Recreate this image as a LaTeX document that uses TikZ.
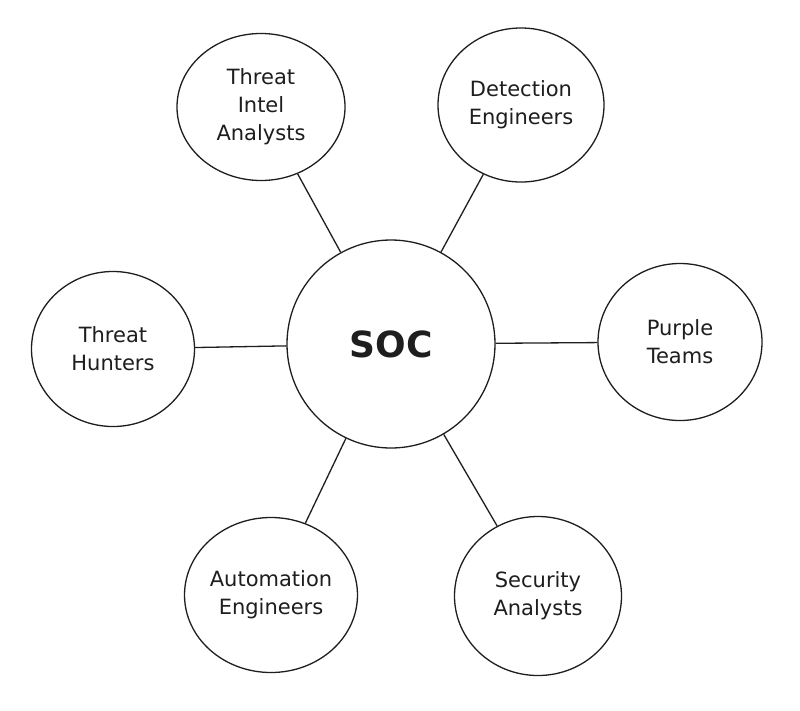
\documentclass[tikz,border=0pt]{standalone}
\usepackage{fontspec}
\setmainfont{DejaVu Sans}
\usetikzlibrary{shapes.geometric}
\definecolor{ink}{HTML}{1E1E1E}
\begin{document}
\begin{tikzpicture}[x=1pt,y=-1pt,
  sat/.style={draw=ink, line width=1.3pt, ellipse, inner sep=0pt, align=center, text=ink,
    font=\fontsize{21}{28}\selectfont},
  hub/.style={draw=ink, line width=1.3pt, ellipse, inner sep=0pt, text=ink,
    minimum width=208pt, minimum height=208pt, font=\fontsize{36}{40}\selectfont\bfseries},
  link/.style={draw=ink, line width=1.3pt}]
\fill[white] (0,0) rectangle (800,710);
\useasboundingbox (0,0) rectangle (800,710);
\node[hub] (soc) at (391,344) {SOC};
\node[sat, minimum width=168pt, minimum height=147pt] (intel) at (261,107) {Threat\\Intel\\Analysts};
\node[sat, minimum width=166pt, minimum height=154pt] (detect) at (521,105) {Detection\\Engineers};
\node[sat, minimum width=163pt, minimum height=155pt] (hunt) at (113,349) {Threat\\Hunters};
\node[sat, minimum width=164pt, minimum height=157pt] (purple) at (680,342) {Purple\\Teams};
\node[sat, minimum width=165pt, minimum height=155pt] (auto) at (271,595) {Automation\\Engineers};
\node[sat, minimum width=167pt, minimum height=159pt] (sec) at (538,596) {Security\\Analysts};
\draw[link] (intel) -- (soc);
\draw[link] (detect) -- (soc);
\draw[link] (hunt) -- (soc);
\draw[link] (purple) -- (soc);
\draw[link] (auto) -- (soc);
\draw[link] (sec) -- (soc);
\end{tikzpicture}
\end{document}
